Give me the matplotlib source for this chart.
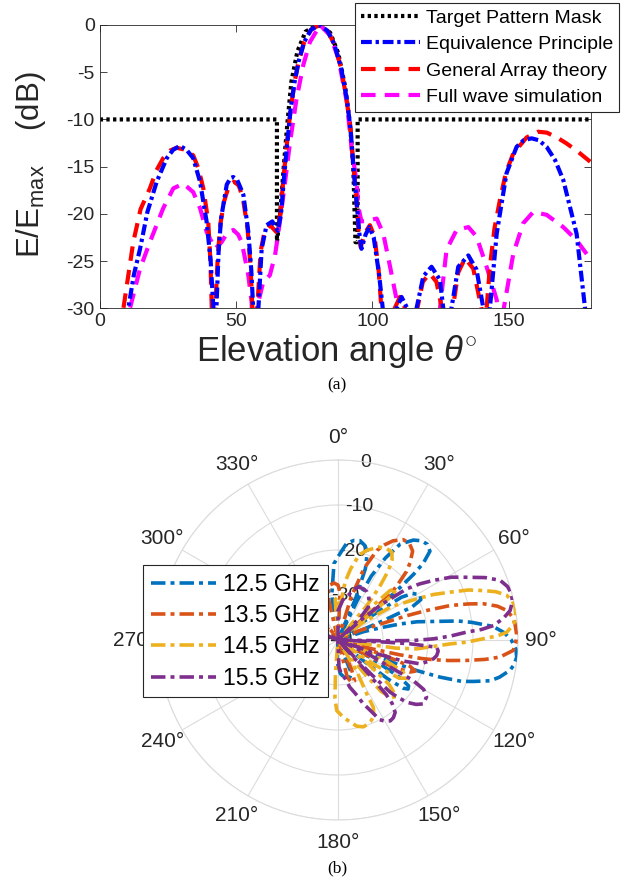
import numpy as np
import matplotlib
matplotlib.use('Agg')
from matplotlib import pyplot as plt

plt.rcParams['font.family'] = ['Liberation Sans', 'DejaVu Sans']
plt.rcParams['mathtext.fontset'] = 'custom'
plt.rcParams['mathtext.rm'] = 'Liberation Sans'
plt.rcParams['mathtext.it'] = 'Liberation Sans:italic'
plt.rcParams['axes.unicode_minus'] = False

# ---------------- (a) elevation pattern ----------------
mask_x = [0, 65, 65, 66.2, 67.5, 68.8, 70.3, 72.5, 75.5, 80, 84.5, 87.5, 90, 91.8, 93, 93.8, 94.6, 94.6, 180]
mask_y = [-10, -10, -23, -20, -15, -10.5, -6, -2.8, -0.7, 0, -0.8, -3, -6.5, -10.5, -15, -23, -23, -10, -10]

ep_x = [7, 10.5, 12.5, 14.8, 17.5, 20.9, 24.6, 27, 29.4, 31.8, 34.3, 36.8, 39.2, 40.7, 41.7, 42,
        42.2, 42.8, 43.6, 44.5, 46.6, 48, 49, 50.4, 51.6, 52.7, 54.5, 55.6, 56.3, 57,
        57.5, 58.2, 59.4, 61.2, 63.3, 65.3, 66.5, 67.5, 68.6, 70, 71.5, 73, 75, 77.5, 80.5, 83.5, 86,
        88.5, 90.6, 92, 93, 94.2, 95.2, 96, 97.5, 98.9, 100.5, 102.5, 103.8, 104.8,
        107.5, 108.9, 110.7, 112.8, 114,
        115, 116.2, 118.7, 121.7, 124.8, 126, 127,
        128, 129, 131.5, 135.2, 138.2, 140.7, 141.8,
        142.3, 143.1, 145.6, 149.2, 152.9, 155.5, 158.4, 161, 163.9, 167, 170, 174.9, 178, 179]
ep_y = [-45, -30, -26.5, -23.7, -19.8, -16.6, -14.1, -13.2, -12.8, -13.2, -14.1, -16.6, -20.8, -25, -30, -45,
        -45, -30, -24, -20.5, -16.9, -16.2, -16.1, -16.4, -17.2, -18, -21.9, -26, -30, -45,
        -45, -30, -23.7, -21.2, -20.8, -21.8, -20, -16.5, -13.1, -9, -6, -3.8, -1.8, -0.5, 0, -0.6, -2,
        -4.5, -7.8, -11, -14.8, -18.7, -22, -23.7, -22.2, -21.4, -22.5, -26.5, -30, -45,
        -45, -30, -28.8, -30, -45,
        -45, -30, -26.6, -25.6, -27, -30, -45,
        -45, -30, -25.6, -24.4, -25.9, -30, -45,
        -45, -30, -22.1, -15.7, -12.9, -12.2, -12, -12.2, -12.9, -14.3, -16.4, -22.1, -30, -45]

ga_x = [5, 8.7, 10.5, 12.3, 15, 18.4, 20.8, 23.3, 25.8, 28.2, 31.2, 34.3, 36.2, 38, 39.8, 40.6, 41.1, 41.5,
        41.9, 42.4, 43.3, 44.3, 45.6, 47.3, 49.3, 51, 52.5, 54.2, 55.3, 56, 56.8,
        57.2, 57.8, 59, 60.5, 62.5, 64.7, 66.3, 67.3, 68.5, 70, 71.5, 73, 75, 77.5, 80.5, 83.5, 86,
        88.5, 90.5, 92, 93, 94.2, 95, 95.7, 97.3, 99.1, 100.8, 102.3, 103.3, 104.3,
        107, 108.2, 110.1, 112, 113.3,
        115, 116.5, 118.5, 121, 123.5, 125.5, 126.5,
        128.5, 129.5, 131.5, 134, 137, 140, 140.9,
        141.9, 143.1, 144.8, 146.8, 149, 151.7, 156.6, 160.8, 164, 167.6, 171, 174.9, 180]
ga_y = [-45, -30, -26.5, -23, -19.5, -17.3, -15.4, -14.1, -13.3, -13, -13.2, -13.8, -15.2, -17.3, -20.8, -25, -30, -45,
        -45, -30, -24.5, -21, -18.7, -17.1, -16.6, -17, -18.3, -21.5, -25.5, -30, -45,
        -45, -30, -24, -21.8, -21.2, -21.9, -20, -16.5, -13, -9, -6, -3.8, -1.8, -0.5, 0, -0.6, -2,
        -4.5, -7.8, -11, -14.8, -18.7, -22, -23.5, -22, -21.2, -22.4, -26, -30, -45,
        -45, -30, -28.8, -30, -45,
        -45, -30, -27.2, -26.3, -27.2, -30, -45,
        -45, -30, -26.2, -24.7, -25.8, -30, -45,
        -30, -25.6, -21.5, -18.5, -15.6, -13.6, -11.9, -11.3, -11.4, -11.9, -12.5, -13.3, -14.5]

fw_x = [9, 11.1, 14.8, 18.4, 23.3, 27, 30.7, 34.3, 36.8, 39.2, 42.3, 44.7, 46.8, 49, 50.8, 52.1, 54.5, 55.7, 56.5,
        57.1, 57.6, 60, 62.4, 64.3, 66.1, 68, 69.8, 72.2, 74.7, 77.1, 80.8, 84.5, 87.5, 90.6, 92.4, 94.2,
        94.8, 96, 98.5, 101.6, 104, 106.5, 108.9, 110, 117, 124.8, 127.2, 130.9, 135.2, 138.2, 141.9,
        145.6, 146.8, 147.5, 148.2, 151.7, 155.3, 159, 163.9, 170, 174.9, 180]
fw_y = [-45, -30, -25.8, -23, -19.4, -17.3, -16.8, -17.7, -19.4, -21.9, -23.7, -23, -22, -21.7, -22.2, -23, -26.5, -29.3, -35,
        -35, -30, -27.2, -26.5, -24.4, -20.8, -16.6, -12.4, -7.8, -4.2, -1.8, 0, -1.1, -3.5, -8.1, -13.1, -16.6,
        -19.2, -20.8, -20.7, -20.5, -22.1, -25.6, -29.1, -35, -40, -30, -23.8, -21.7, -21.4, -22.4, -25.6,
        -29.1, -33, -33, -30, -24.2, -21, -19.8, -20.1, -21.4, -22.8, -24.8]

# ---------------- (b) polar patterns ----------------
th_125 = [-12, -8, -3, 0, 5, 9, 12.5, 16, 18.5, 21, 23, 24,
          25, 26, 27.5, 30, 33, 37, 40, 43, 46, 48, 49, 50, 51, 52,
          53, 54.5, 56, 58, 61, 64, 66, 67, 68,
          69, 72, 74, 75.5, 77, 79, 81, 82.5, 85, 87.5, 90, 93, 95.5, 98, 100, 103, 105, 107, 108.5,
          110, 111.2, 112.1, 112.6, 113,
          116, 118.5, 120.5, 121.5, 123, 125, 126.5, 128, 129, 130,
          152, 158, 163, 170, 176, 182, 186]
db_125 = [-40, -30, -23, -21.5, -18.5, -17.6, -17.4, -18.2, -19.5, -23, -30, -40,
          -40, -30, -24, -19, -14.6, -12.2, -11.2, -10.9, -11.6, -14.5, -17.7, -22.9, -30, -40,
          -40, -30, -23, -20.5, -19.2, -19.5, -22, -30, -40,
          -40, -34, -30, -25.8, -22, -18.4, -13, -10, -5.4, -3, -1.5, -0.4, -0.1, -0.5, -1.2, -3.2, -5, -8.5, -11,
          -15.9, -21.2, -25.9, -33, -40,
          -40, -32, -26.7, -23.5, -21.3, -21, -22, -26, -32, -40,
          -40, -32, -31.2, -31.5, -32.5, -35, -40]

th_135 = [-16, -13, -9, -4, 0, 2.5, 4,
          14, 17, 20, 23.5, 26, 29, 33, 36.5, 40, 43, 45, 47, 48.5, 49.5, 50,
          60, 66, 69.5, 70.5, 71.5, 72.9, 74.5, 76, 78, 80.1, 82.5, 84.8, 88, 91, 93.4, 96, 97.5, 99,
          100.5, 101.7, 102.5, 103.5, 104.5, 105.5,
          106.5, 108, 110, 112, 114, 116, 118, 120,
          152, 155, 158, 162, 166, 170,
          312, 318, 324, 330]
db_135 = [-40, -30, -27.7, -27.3, -27.8, -29.5, -40,
          -40, -30, -23, -18.3, -16.5, -14.8, -13.4, -13.3, -14.2, -16.5, -18.5, -21.7, -24, -30, -40,
          -40, -35, -29.6, -24, -19.5, -14, -10, -6.7, -3.8, -1.9, -0.9, -0.5, -0.3, -0.5, -1, -3.8, -7, -11,
          -15, -18.4, -21, -26, -32, -40,
          -40, -30, -23, -21.5, -22.5, -26, -32.8, -40,
          -40, -33, -30.2, -30, -31.5, -40,
          -40, -35.5, -35, -40]

th_145 = [-8, -4, -1, 1.5, 3, 7, 10, 14, 18, 24, 28, 31.5, 34, 36, 38, 40, 41,
          43, 45, 46.5, 48.5, 50.5, 51.5, 52,
          53, 55, 58, 62.4, 64.5, 66.9, 69, 71.2, 73, 75.2, 77.5, 79.5, 81.5, 83.7, 85.5, 87.4, 88.5, 89.5,
          91, 92, 94, 96.4, 98, 99,
          108, 112, 116, 119, 122, 124, 125,
          126, 128, 131, 134, 137, 140, 142, 144,
          147, 149, 151.9, 152.3, 155, 158.3, 161, 163.8, 167.7, 171.7, 176, 181, 183, 184.5, 185]
db_145 = [-40, -31, -30.5, -32, -33, -27, -24, -20.5, -19, -17.4, -17, -17.1, -18.5, -21, -25, -30, -40,
          -40, -30, -24, -22.8, -24, -30, -40,
          -40, -33, -26, -20.3, -16.5, -12.9, -9, -5.9, -3.3, -1.2, -0.3, 0, -0.1, -0.4, -1.2, -2.5, -4.5, -7.7,
          -11.5, -15.1, -19, -22.4, -27, -40,
          -40, -30, -24, -22.5, -24, -30, -40,
          -40, -32, -25, -22, -22.5, -25, -31, -40,
          -40, -32, -26.4, -23.1, -21.2, -20.5, -20.1, -19.9, -20.4, -21.6, -22.8, -24.3, -27, -33, -40]

th_155 = [-4, 0, 7, 13, 17, 21, 26, 31, 34.3, 38, 42.7, 45, 46,
          47, 49, 51, 53.3, 55.5, 58, 61, 64, 67, 69.8, 72.5, 75, 77.5, 80.3, 82.5, 84.7, 85.8, 86.5, 88,
          89.3, 90.4, 91, 91.5,
          92, 92.5, 93, 94.2, 96.3, 99, 101.2, 103.5, 106.2, 108, 110, 111,
          112, 114.5, 117, 118.3, 120, 122.8, 126.8, 129.5, 132.2, 134, 135, 136, 137,
          137.5, 138, 138.5, 139.5, 141.7, 144.5, 147.1, 150, 152.4, 155, 158.4, 162, 166, 170, 174, 178, 180,
          285, 292, 300, 306]
db_155 = [-40, -33.5, -31, -29.8, -28.3, -27.4, -27.3, -27.5, -28, -28.8, -30.1, -33, -40,
          -40, -32, -27, -21, -18, -15, -11.2, -8.2, -4.5, -1.6, -0.5, -0.1, -0.3, -1.2, -2.9, -5.3, -8, -11.4, -15,
          -18.8, -23.3, -30, -40,
          -40, -30, -24, -18, -17.6, -17.8, -18.4, -19.5, -21, -25, -32, -40,
          -40, -33, -28.6, -21, -18, -16.6, -16.3, -17.5, -19.4, -22, -23.6, -30, -40,
          -40, -30, -24, -21.5, -19.5, -18.8, -18.6, -19.2, -20, -22.5, -24.8, -27.5, -29.2, -31.5, -32.1, -34, -40,
          -40, -35, -34.5, -40]

freq_labels = ['12.5 GHz', '13.5 GHz', '14.5 GHz', '15.5 GHz']
freq_colors = ['#0072BD', '#D95319', '#EDB120', '#7E2F8E']
r_ticks = [-40, -30, -20, -10, 0]

fig = plt.figure(figsize=(6.27, 8.81), dpi=100)
W, H = 627.0, 881.0

# top panel
ax = fig.add_axes([99.7 / W, 1 - 308.3 / H, 490.8 / W, 283.3 / H])
l_mask, = ax.plot(mask_x, mask_y, color='k', lw=3, linestyle=(0, (0.8, 0.8)))
l_fw, = ax.plot(fw_x, fw_y, color='#ff00ff', lw=3, linestyle=(0, (3.5, 2.2)), zorder=2)
l_ga, = ax.plot(ga_x, ga_y, color='r', lw=3, linestyle=(0, (3.5, 2.2)), zorder=3)
l_ep, = ax.plot(ep_x, ep_y, color='b', lw=3, linestyle=(0, (2.6, 0.9, 0.8, 0.9)), zorder=4)
leg = ax.legend([l_mask, l_ep, l_ga, l_fw],
                ['Target Pattern Mask', 'Equivalence Principle', 'General Array theory', 'Full wave simulation'],
                loc='upper right', bbox_to_anchor=(619 / W, 1 - 3 / H), bbox_transform=fig.transFigure,
                borderaxespad=0, fontsize=14, handlelength=3.0, handletextpad=0.3, labelspacing=0.45,
                borderpad=0.32, fancybox=False, framealpha=1, edgecolor='#262626')
leg.get_frame().set_linewidth(0.8)
ax.set_xlim(0, 180)
ax.set_ylim(-30, 0)
ax.set_xticks([0, 50, 100, 150])
ax.set_yticks([-30, -25, -20, -15, -10, -5, 0])
ax.tick_params(direction='in', top=True, right=True, labelsize=14, colors='#262626', length=5, width=0.6)
for s in ax.spines.values():
    s.set_color('#262626')
    s.set_linewidth(0.6)

fig.text(31 / W, 1 - 165 / H, 'E/E$_{\\mathrm{max}}$    (dB)', rotation=90, ha='center', va='center',
         fontsize=22.5, color='#262626')
fig.text(337 / W, 1 - 361 / H, 'Elevation angle $\\mathit{\\theta}^{\\circ}$', ha='center', va='baseline',
         fontsize=25, color='#262626')
fig.text(337 / W, 1 - 389 / H, '(a)', ha='center', va='baseline', fontsize=12.5, family='Liberation Serif')

# bottom panel
pax = fig.add_axes([158 / W, 1 - 820 / H, 360 / W, 360 / H], projection='polar')
pax.set_theta_zero_location('N')
pax.set_theta_direction(-1)
series = [(th_125, db_125), (th_135, db_135), (th_145, db_145), (th_155, db_155)]
for (th, db), c, lab in zip(series, freq_colors, freq_labels):
    pax.plot(np.deg2rad(th), db, color=c, lw=2.6, linestyle=(0, (4, 1.4, 1.1, 1.4)), label=lab, zorder=3)
pax.set_rlim(-40, 0)
pax.set_rticks(r_ticks)
pax.set_yticklabels([])
for rv in r_ticks:
    pax.text(np.deg2rad(9), rv, str(rv), ha='center', va='center', fontsize=14, color='#262626', zorder=2.5)
pax.set_thetagrids(range(0, 360, 30), [f'{d}°' for d in range(0, 360, 30)])
pax.tick_params(axis='x', labelsize=15, pad=6, colors='#262626')
pax.grid(color='#dcdcdc', lw=0.8)
pax.spines['polar'].set_color('#dcdcdc')
pax.spines['polar'].set_linewidth(0.8)

pleg = fig.legend(*pax.get_legend_handles_labels(), loc='upper left',
                  bbox_to_anchor=(143 / W, 1 - 565 / H), borderaxespad=0, fontsize=16.5,
                  handlelength=2.85, handletextpad=0.3, labelspacing=0.36, borderpad=0.34,
                  fancybox=False, framealpha=1, edgecolor='#262626')
pleg.get_frame().set_linewidth(0.8)

fig.text(337 / W, 1 - 872 / H, '(b)', ha='center', va='baseline', fontsize=12.5, family='Liberation Serif')

fig.savefig('out.png', dpi=100)
